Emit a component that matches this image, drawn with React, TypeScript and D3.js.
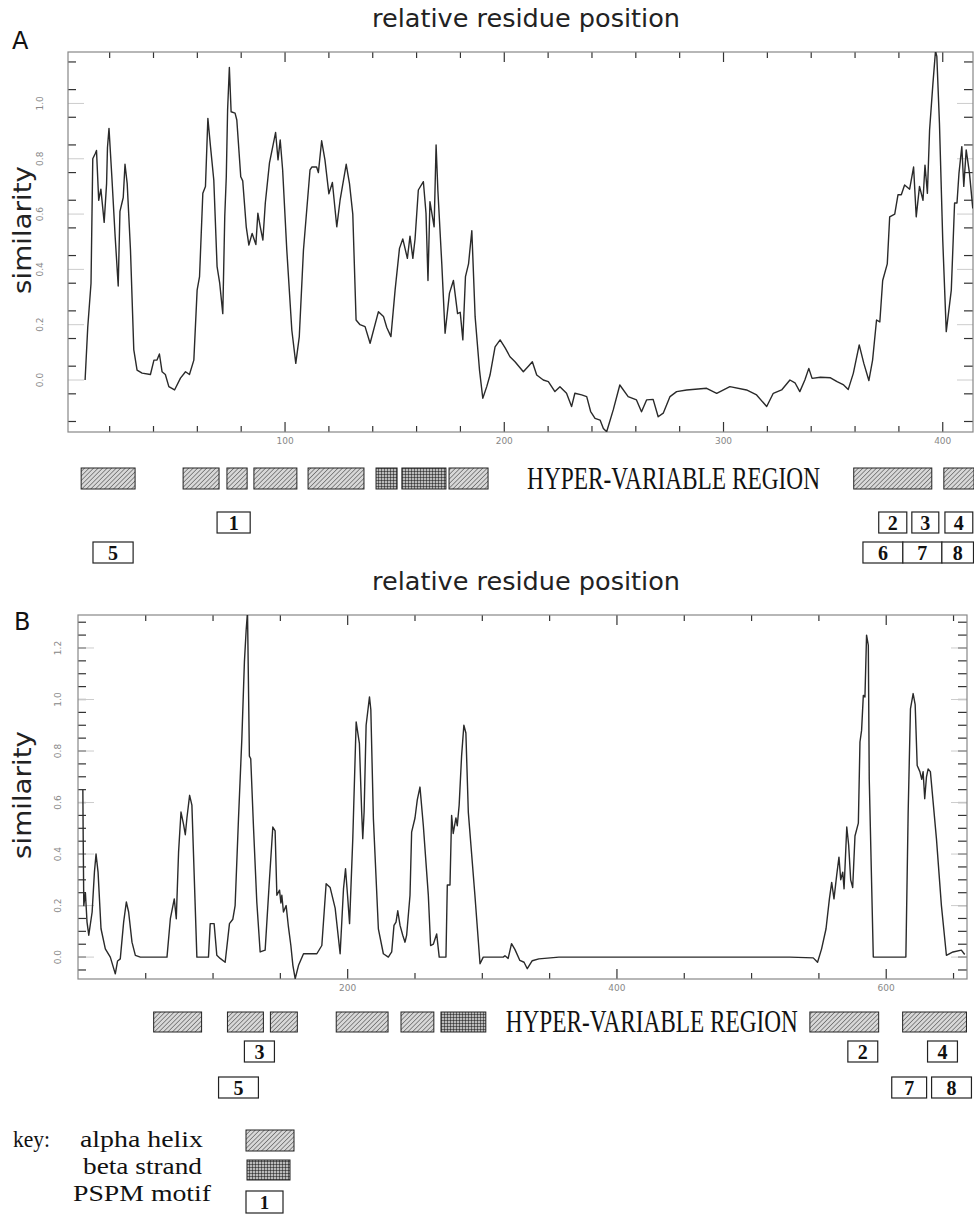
import * as d3 from 'd3'

// ---- panel A : similarity profile (residue position, similarity)
const posA = [8.8, 10, 11.5, 12.3, 13.5, 14, 15, 16, 17.5, 18.6, 19, 19.7, 21, 22.5, 23.9, 24.7, 26.2, 27, 28, 29.5, 31, 32.5, 34.8, 38.6, 40.2, 41.6, 42.7, 43.9, 45.4, 47, 49.6, 52.3, 54.6, 56.4, 58.4, 59.9, 61, 62.5, 63.7, 64.8, 66, 67.5, 69, 70.2, 71.6, 72.5, 73.2, 73.8, 74.6, 75.4, 77.2, 78, 79.8, 80.7, 82.3, 83.5, 85, 86.7, 87.6, 88.7, 89.9, 91, 92.9, 95.7, 96.8, 97.8, 98.9, 100.8, 103.1, 104.9, 106.5, 108.4, 111.4, 112.2, 114.4, 115.2, 116.7, 118.2, 120, 121.6, 123.6, 125.1, 127.9, 129.4, 130.9, 132.4, 134.2, 136.5, 138.8, 142.6, 144.9, 146.4, 148.3, 150.2, 152.2, 153.7, 155.8, 157, 158.3, 159.3, 160.8, 163.1, 164.3, 165.2, 166.1, 168, 168.9, 169.7, 171.5, 173, 175, 176.8, 178.7, 179.9, 181.1, 182.3, 183.7, 185.2, 186.7, 188.7, 190.2, 192, 193.5, 195.8, 198.1, 200.4, 202.6, 204.9, 208.7, 211, 212.8, 214.8, 217.8, 220.1, 223.1, 225.4, 228.4, 230.7, 232.2, 235.3, 237.6, 239.4, 241.4, 243.7, 245.2, 246.7, 249.7, 252.7, 256.5, 260.3, 262.6, 264.9, 267.9, 270.2, 272.5, 275.6, 278.6, 283.2, 292.3, 296.9, 302.9, 310.5, 315.1, 319.7, 322.7, 326.5, 330.3, 332.6, 334.8, 337.1, 338.9, 340.4, 344.2, 348.8, 351.8, 354.8, 356.9, 359.2, 361.9, 364, 366.3, 368, 369.8, 371.3, 372.6, 374.7, 375.8, 378.1, 379.6, 381.1, 382.6, 384.9, 386.7, 387.9, 389.4, 391, 391.9, 393, 394, 395.5, 396.7, 397.3, 398.5, 400, 401.6, 403.9, 405.4, 406.5, 407.4, 408.7, 409.6, 410.7, 412.2, 413.7]
const simA = [0.0, 0.19, 0.35, 0.8, 0.82, 0.83, 0.65, 0.69, 0.57, 0.71, 0.84, 0.91, 0.735, 0.52, 0.34, 0.61, 0.66, 0.78, 0.71, 0.47, 0.11, 0.036, 0.025, 0.02, 0.072, 0.072, 0.094, 0.03, 0.02, -0.024, -0.036, 0.007, 0.03, 0.02, 0.072, 0.325, 0.374, 0.675, 0.7, 0.946, 0.844, 0.723, 0.41, 0.35, 0.24, 0.59, 0.735, 0.976, 1.13, 0.97, 0.965, 0.94, 0.735, 0.72, 0.554, 0.488, 0.53, 0.49, 0.603, 0.554, 0.506, 0.64, 0.785, 0.895, 0.796, 0.868, 0.76, 0.47, 0.18, 0.06, 0.157, 0.47, 0.76, 0.77, 0.77, 0.75, 0.865, 0.796, 0.673, 0.714, 0.554, 0.65, 0.78, 0.71, 0.6, 0.217, 0.2, 0.193, 0.133, 0.247, 0.23, 0.19, 0.157, 0.325, 0.476, 0.51, 0.44, 0.52, 0.44, 0.51, 0.687, 0.717, 0.603, 0.36, 0.645, 0.554, 0.85, 0.687, 0.42, 0.169, 0.314, 0.36, 0.24, 0.245, 0.145, 0.374, 0.42, 0.54, 0.229, 0.036, -0.066, -0.024, 0.018, 0.12, 0.145, 0.116, 0.084, 0.066, 0.03, 0.05, 0.066, 0.018, 0.0, -0.006, -0.042, -0.024, -0.048, -0.096, -0.048, -0.054, -0.06, -0.114, -0.139, -0.145, -0.175, -0.187, -0.108, -0.018, -0.06, -0.072, -0.115, -0.072, -0.07, -0.133, -0.12, -0.06, -0.042, -0.036, -0.03, -0.048, -0.024, -0.036, -0.054, -0.096, -0.048, -0.036, 0.0, -0.01, -0.042, 0.0, 0.042, 0.006, 0.01, 0.008, -0.006, -0.018, -0.034, 0.024, 0.127, 0.06, -0.002, 0.072, 0.217, 0.21, 0.36, 0.42, 0.59, 0.6, 0.67, 0.67, 0.705, 0.69, 0.77, 0.59, 0.7, 0.65, 0.777, 0.675, 0.904, 1.07, 1.19, 1.17, 0.928, 0.506, 0.175, 0.325, 0.64, 0.64, 0.747, 0.844, 0.7, 0.832, 0.747, 0.62]

// ---- panel B
const posB = [3.3, 3.5, 4, 5.2, 6.4, 7.7, 10.2, 11.9, 13.1, 14.6, 16.8, 20, 23.7, 27.4, 29.1, 31.1, 33.6, 35.6, 37.3, 39.8, 42.3, 46, 65.8, 68.3, 71.2, 72.7, 74.4, 76.2, 78.1, 79.4, 80.6, 82.6, 84.3, 88, 96.6, 97.9, 100.8, 102.8, 105.3, 109, 112.2, 114.7, 116.4, 118.9, 121.4, 123.3, 124.6, 125.6, 127, 128, 130, 132.5, 135, 138.7, 141.9, 144.4, 146.1, 147.4, 149.4, 150.4, 151.1, 152.3, 154.3, 156, 157.8, 159.3, 161, 163.5, 167.2, 177.1, 180.8, 184, 187, 190.7, 194.4, 196.9, 198.4, 199.9, 201.4, 203.8, 206.3, 208.7, 210.4, 211.2, 212.2, 213.7, 216.2, 217.2, 219.1, 222.8, 226.5, 230.2, 232.7, 234.4, 235.9, 237.2, 238.9, 240.9, 242.6, 243.8, 246.3, 247.5, 250, 251.7, 253.7, 256.2, 259.9, 261.6, 263.6, 266.1, 268, 273, 274, 276, 277.2, 278.4, 280.4, 281.4, 282.8, 284.6, 286.3, 287.8, 289.6, 294.5, 298.3, 300.7, 315.5, 316.8, 319.2, 321.7, 324.2, 327.9, 331, 333.4, 337.1, 342, 356.9, 528.5, 545.8, 549, 552, 555.3, 557.8, 559.5, 561.2, 563.2, 564.9, 566.2, 567.7, 568.7, 570.7, 572.1, 573.6, 575.1, 576.8, 579.3, 580.5, 581.7, 583, 584.2, 585.4, 586.7, 587.4, 590.4, 614.6, 616.3, 618, 620, 621.5, 623, 625, 626.4, 627.4, 628.6, 629.9, 631.1, 632.8, 637.3, 641, 644.7, 649.6, 655.8, 658.3]
const simB = [0.65, 0.5, 0.2, 0.25, 0.136, 0.085, 0.175, 0.33, 0.4, 0.33, 0.11, 0.032, 0, -0.065, -0.015, -0.007, 0.136, 0.214, 0.175, 0.058, 0.007, 0, 0, 0.149, 0.226, 0.149, 0.408, 0.563, 0.515, 0.475, 0.54, 0.628, 0.59, 0, 0, 0.13, 0.13, 0.007, -0.005, -0.02, 0.13, 0.147, 0.2, 0.537, 0.848, 1.146, 1.27, 1.34, 0.78, 0.77, 0.51, 0.214, 0.02, 0.027, 0.3, 0.505, 0.49, 0.24, 0.26, 0.21, 0.24, 0.175, 0.2, 0.117, 0.045, -0.032, -0.084, -0.032, 0.013, 0.013, 0.045, 0.285, 0.27, 0.19, 0.013, 0.265, 0.343, 0.24, 0.13, 0.46, 0.913, 0.83, 0.563, 0.46, 0.563, 0.9, 1.01, 0.96, 0.537, 0.11, 0.013, 0, 0.02, 0.123, 0.136, 0.18, 0.123, 0.085, 0.058, 0.085, 0.24, 0.485, 0.54, 0.61, 0.66, 0.51, 0.24, 0.045, 0.05, 0.09, 0, 0, 0.28, 0.28, 0.55, 0.48, 0.54, 0.51, 0.59, 0.78, 0.9, 0.87, 0.563, 0.24, -0.026, 0, 0, 0.005, -0.005, 0.052, 0.03, -0.013, -0.02, -0.045, -0.014, -0.007, 0, 0, -0.003, -0.02, 0.032, 0.11, 0.226, 0.29, 0.226, 0.317, 0.388, 0.3, 0.33, 0.265, 0.505, 0.435, 0.3, 0.27, 0.47, 0.52, 0.835, 0.88, 1.016, 1.01, 1.25, 1.21, 0.69, 0, 0, 0.563, 0.964, 1.023, 0.98, 0.744, 0.72, 0.69, 0.72, 0.615, 0.7, 0.73, 0.72, 0.46, 0.2, 0.007, 0.02, 0.027, 0.01]

// secondary structure (residue ranges)
const helixA = [[7, 31.6], [53.5, 69.9], [73.5, 82.7], [85.8, 105.4], [110.5, 136], [174.8, 192.6], [359.4, 395], [400.5, 414.5]]
const strandA = [[141.5, 151.1], [153.3, 173.4]]
const hvrA = [210.4, 344]
const motifA = [
  { id: '1', from: 69, to: 84.1, row: 0 },
  { id: '2', from: 370.8, to: 383.6, row: 0 },
  { id: '3', from: 385.9, to: 398.2, row: 0 },
  { id: '4', from: 401, to: 413.7, row: 0 },
  { id: '5', from: 12.4, to: 30.7, row: 1 },
  { id: '6', from: 363.6, to: 381.8, row: 1 },
  { id: '7', from: 381.8, to: 399.6, row: 1 },
  { id: '8', from: 399.6, to: 414.2, row: 1 },
]

const helixB = [[55.9, 91.5], [110.7, 137.4], [142.6, 162.6], [191.5, 230], [239.6, 264], [543.3, 594.4], [612.2, 659.6]]
const strandB = [[269.3, 302.6]]
const hvrB = [317.4, 534.4]
const motifB = [
  { id: '3', from: 123.3, to: 145.6, row: 0 },
  { id: '2', from: 571.5, to: 593.7, row: 0 },
  { id: '4', from: 630.7, to: 652.9, row: 0 },
  { id: '5', from: 104.1, to: 133.7, row: 1 },
  { id: '7', from: 604.1, to: 630, row: 1 },
  { id: '8', from: 633.7, to: 663.3, row: 1 },
]

const xLabelsA = [100, 200, 300, 400]
const yLabelsA = [0, 0.2, 0.4, 0.6, 0.8, 1.0]
const xLabelsB = [200, 400, 600]
const yLabelsB = [0, 0.2, 0.4, 0.6, 0.8, 1.0, 1.2]

const sans = '"DejaVu Sans", Verdana, sans-serif'
const serif = '"Liberation Serif", "Times New Roman", serif'

function Panel(p: any) {
  const x = d3.scaleLinear().domain(p.xDomain).range([p.left, p.right])
  const y = d3.scaleLinear().domain(p.yDomain).range([p.bottom, p.top])
  const line = d3.line<number>().x((d, i) => x(p.pos[i])).y(d => y(d))
  const xMinor = d3.range(p.xStep, p.xDomain[1], p.xStep)
  const clip = `clip-${p.name}`
  return (
    <g>
      <text x={p.labelX} y={p.labelY} fontFamily={sans} fontSize={24} fill="#111">{p.name}</text>
      <text x={372} y={p.titleY} textLength={308} lengthAdjust="spacingAndGlyphs" fontFamily={sans} fontSize={24} fill="#222">relative residue position</text>
      <text transform={`translate(${p.simX},${p.simY}) rotate(-90)`} textAnchor="middle" textLength={128} lengthAdjust="spacingAndGlyphs" fontFamily={sans} fontSize={25} fill="#222">similarity</text>
      <defs>
        <clipPath id={clip}><rect x={p.left} y={p.top} width={p.right - p.left} height={p.bottom - p.top} /></clipPath>
      </defs>
      {/* y ticks, left and right */}
      {p.yTicks.map((v: number, i: number) => (
        <g key={'yt' + i} stroke="#333" strokeWidth={1.2}>
          <line x1={p.left} x2={p.left + 8} y1={y(v)} y2={y(v)} />
          <line x1={p.right} x2={p.right - 9} y1={y(v)} y2={y(v)} />
        </g>
      ))}
      {p.yLabels.map((v: number) => (
        <g key={'yl' + v}>
          <line x1={p.left} x2={p.left + 16} y1={y(v)} y2={y(v)} stroke="#ccc" strokeWidth={1} />
          <line x1={p.right} x2={p.right - 16} y1={y(v)} y2={y(v)} stroke="#ccc" strokeWidth={1} />
          <text transform={`translate(${p.yLabelX},${y(v)}) rotate(-90)`} textAnchor="middle" dominantBaseline="central" fontFamily={sans} fontSize={9} fill="#888">{v.toFixed(1)}</text>
        </g>
      ))}
      {/* x ticks top and bottom */}
      {xMinor.map((v: number) => {
        const len = v % p.xMajor === 0 ? 10 : 6
        return (
          <g key={'xt' + v} stroke="#333" strokeWidth={1.2}>
            <line x1={x(v)} x2={x(v)} y1={p.bottom} y2={p.bottom - len} />
            <line x1={x(v)} x2={x(v)} y1={p.top} y2={p.top + len} />
          </g>
        )
      })}
      {p.xLabels.map((v: number) => (
        <text key={'xl' + v} x={x(v)} y={p.bottom + 12} textAnchor="middle" fontFamily={sans} fontSize={9} fill="#888">{v}</text>
      ))}
      <rect x={p.left} y={p.top} width={p.right - p.left} height={p.bottom - p.top} fill="none" stroke="#888" strokeWidth={1.2} />
      <path d={line(p.sim) || ''} fill="none" stroke="#2a2a2a" strokeWidth={1.4} strokeLinejoin="round" clipPath={`url(#${clip})`} />
      {/* secondary structure track */}
      {p.helix.map((h: number[], i: number) => (
        <rect key={'h' + i} x={x(h[0])} y={p.trackY} width={Math.min(x(h[1]), 974) - x(h[0])} height={p.trackH} fill="url(#hatch)" stroke="#222" strokeWidth={1} />
      ))}
      {p.strand.map((h: number[], i: number) => (
        <rect key={'s' + i} x={x(h[0])} y={p.trackY} width={x(h[1]) - x(h[0])} height={p.trackH} fill="url(#grid)" stroke="#222" strokeWidth={1} />
      ))}
      <text x={x(p.hvr[0])} y={p.trackY + p.trackH} textLength={x(p.hvr[1]) - x(p.hvr[0])} lengthAdjust="spacingAndGlyphs" fontFamily={serif} fontSize={32} fill="#111">HYPER-VARIABLE REGION</text>
      {p.motifs.map((m: any) => {
        const my = p.motifY[m.row]
        return (
          <g key={'m' + m.id}>
            <rect x={x(m.from)} y={my} width={Math.min(x(m.to), 973.5) - x(m.from)} height={21} fill="#fff" stroke="#222" strokeWidth={1.2} />
            <text x={(x(m.from) + Math.min(x(m.to), 973.5)) / 2} y={my + 18} textAnchor="middle" fontFamily={serif} fontWeight="bold" fontSize={20} fill="#111">{m.id}</text>
          </g>
        )
      })}
    </g>
  )
}

export default function App() {
  return (
    <svg width={974} height={1215} style={{ position: 'absolute', left: 0, top: 0, background: '#fff' }}>
      <defs>
        <pattern id="hatch" width={3.2} height={3.2} patternUnits="userSpaceOnUse" patternTransform="rotate(45)">
          <rect width={3.2} height={3.2} fill="#d8d8d8" />
          <line x1={0} y1={0} x2={0} y2={3.2} stroke="#444" strokeWidth={1.1} />
        </pattern>
        <pattern id="grid" width={3} height={3} patternUnits="userSpaceOnUse">
          <rect width={3} height={3} fill="#bbb" />
          <path d="M0,0 H3 M0,0 V3" stroke="#111" strokeWidth={1} />
        </pattern>
      </defs>
      <rect width={974} height={1215} fill="#fff" />
      <Panel name="A" labelX={12} labelY={49} titleY={27} simX={31} simY={230}
        xDomain={[1, 413.8]} yDomain={[-0.188, 1.186]} left={68} right={973} top={52} bottom={432}
        pos={posA} sim={simA} xStep={20} xMajor={100} xLabels={xLabelsA}
        yTicks={d3.range(-0.15, 1.2, 0.1)} yLabels={yLabelsA} yLabelX={40}
        helix={helixA} strand={strandA} hvr={hvrA} motifs={motifA}
        trackY={468} trackH={21} motifY={[512, 542]} />
      <Panel name="B" labelX={14} labelY={630} titleY={590} simX={31} simY={795}
        xDomain={[-0.3, 660]} yDomain={[-0.085, 1.328]} left={78} right={967} top={615} bottom={979}
        pos={posB} sim={simB} xStep={50} xMajor={200} xLabels={xLabelsB}
        yTicks={d3.range(-0.05, 1.32, 0.05)} yLabels={yLabelsB} yLabelX={58}
        helix={helixB} strand={strandB} hvr={hvrB} motifs={motifB}
        trackY={1012} trackH={20} motifY={[1041, 1077]} />
      {/* key */}
      <g fontFamily={serif} fontSize={24} fill="#111">
        <text x={13} y={1147} textLength={37} lengthAdjust="spacingAndGlyphs">key:</text>
        <text x={80} y={1147} textLength={123} lengthAdjust="spacingAndGlyphs">alpha helix</text>
        <text x={83} y={1174} textLength={119} lengthAdjust="spacingAndGlyphs">beta strand</text>
        <text x={73} y={1201} textLength={138} lengthAdjust="spacingAndGlyphs">PSPM motif</text>
      </g>
      <rect x={246} y={1130} width={48} height={21} fill="url(#hatch)" stroke="#222" strokeWidth={1} />
      <rect x={247} y={1160} width={43} height={20} fill="url(#grid)" stroke="#222" strokeWidth={1} />
      <rect x={246} y={1191} width={37} height={22} fill="#fff" stroke="#222" strokeWidth={1.2} />
      <text x={264.5} y={1209} textAnchor="middle" fontFamily={serif} fontWeight="bold" fontSize={19} fill="#111">1</text>
    </svg>
  )
}
